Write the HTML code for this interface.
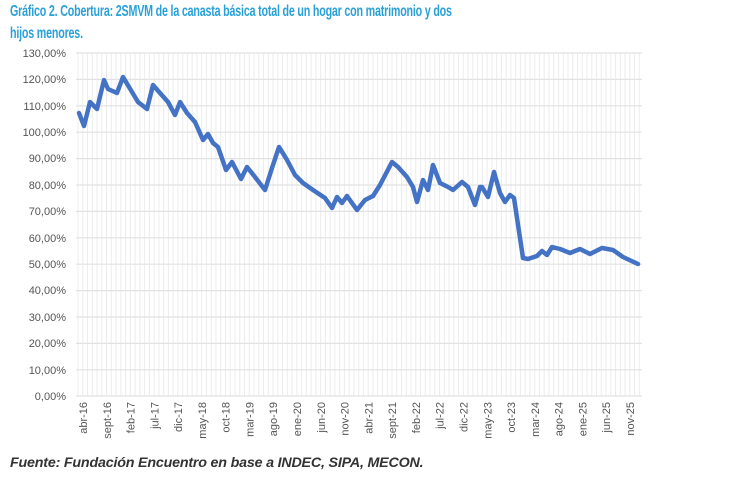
<!DOCTYPE html>
<html><head><meta charset="utf-8"><style>
body{margin:0;background:#fff;width:730px;height:480px;overflow:hidden;font-family:"Liberation Sans",sans-serif}
.t{position:absolute;left:10px;top:1px;color:#2aa0d8;font-weight:bold;font-size:16px;line-height:22px;letter-spacing:-0.3px;transform:scaleX(0.67);transform-origin:0 0;white-space:nowrap}
.f{position:absolute;left:10px;top:454px;color:#333;font-weight:bold;font-style:italic;font-size:14px;letter-spacing:-0.2px;transform:scaleX(1.02);transform-origin:0 0;white-space:nowrap}
</style></head><body>
<div class="t">Gráfico 2. Cobertura: 2SMVM de la canasta básica total de un hogar con matrimonio y dos<br>hijos menores.</div>
<svg width="730" height="480" style="position:absolute;left:0;top:0">
<g id="vg" stroke="#ececec" stroke-width="1"></g>
<g stroke="#e2e2e2" stroke-width="1.2">
<line x1="76" x2="642" y1="53" y2="53"/><line x1="76" x2="642" y1="79.4" y2="79.4"/><line x1="76" x2="642" y1="105.8" y2="105.8"/><line x1="76" x2="642" y1="132.2" y2="132.2"/><line x1="76" x2="642" y1="158.6" y2="158.6"/><line x1="76" x2="642" y1="185" y2="185"/><line x1="76" x2="642" y1="211.4" y2="211.4"/><line x1="76" x2="642" y1="237.8" y2="237.8"/><line x1="76" x2="642" y1="264.2" y2="264.2"/><line x1="76" x2="642" y1="290.6" y2="290.6"/><line x1="76" x2="642" y1="317" y2="317"/><line x1="76" x2="642" y1="343.4" y2="343.4"/><line x1="76" x2="642" y1="369.8" y2="369.8"/><line x1="76" x2="642" y1="396" y2="396"/>
</g>
<g font-size="11" fill="#555" text-anchor="end">
<text x="66" y="57">130,00%</text><text x="66" y="83">120,00%</text><text x="66" y="110">110,00%</text><text x="66" y="136">100,00%</text><text x="66" y="162">90,00%</text><text x="66" y="189">80,00%</text><text x="66" y="215">70,00%</text><text x="66" y="242">60,00%</text><text x="66" y="268">50,00%</text><text x="66" y="294">40,00%</text><text x="66" y="321">30,00%</text><text x="66" y="347">20,00%</text><text x="66" y="374">10,00%</text><text x="66" y="400">0,00%</text>
</g>
<g id="xl" font-size="11" fill="#555" text-anchor="end"></g>
<polyline fill="none" stroke="#4472c4" stroke-width="4.5" stroke-linejoin="round" stroke-linecap="round" points="79,113 84,126 90,102 97,109 104,80 108,89 117,93 123,77 132,92 138,102 147,109 153,85 160,93 168,102 175,115 180,102 187,113 195,122 203,140 208,134 213,143 218,147 226,170 232,162 241,179 247,167 255,177 265,190 272,168 279,147 284,155 287,160 295,175 303,183 313,190 325,198 332,208 337,197 342,203 347,196 357,210 365,200 373,196 380,185 392,162 398,167 407,177 413,187 417,202 423,180 428,190 433,165 440,183 448,187 453,190 462,182 468,187 475,205 480,187 482,187 488,197 494,172 500,193 505,202 510,195 514,198 523,258 528,259 537,256 542,251 547,255 552,247 560,249 570,253 580,249 590,254 602,248 613,250 623,257 638,264"/>
</svg>
<script>
var vg=document.getElementById('vg'),s='';
for(var i=0;i<=118;i++){var x=78+i*4.757;if(x>642)break;s+='<line x1="'+x+'" x2="'+x+'" y1="53" y2="396"/>';}
vg.innerHTML=s;
var L=['abr-16','sept-16','feb-17','jul-17','dic-17','may-18','oct-18','mar-19','ago-19','ene-20','jun-20','nov-20','abr-21','sept-21','feb-22','jul-22','dic-22','may-23','oct-23','mar-24','ago-24','ene-25','jun-25','nov-25'],t='';
for(var j=0;j<L.length;j++){var x=83+j*23.78+4;t+='<text transform="translate('+x+',402) rotate(-90)">'+L[j]+'</text>';}
document.getElementById('xl').innerHTML=t;
</script>
<div class="f">Fuente: Fundación Encuentro en base a INDEC, SIPA, MECON.</div>
</body></html>
